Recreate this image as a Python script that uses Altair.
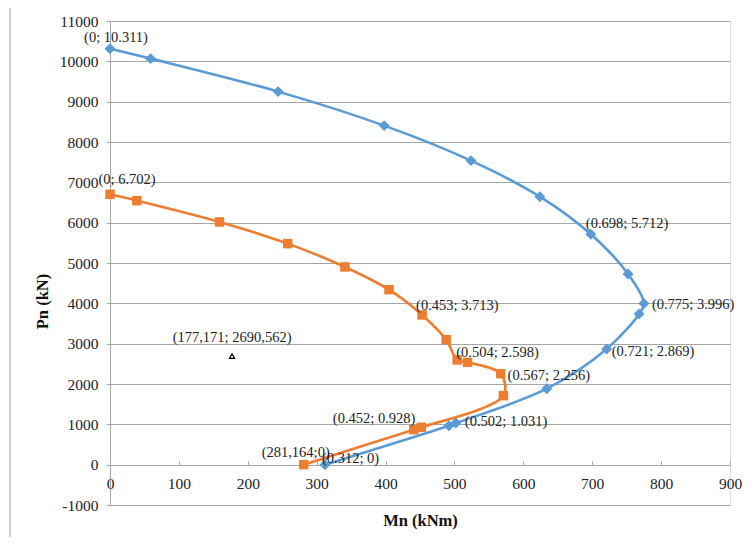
import altair as alt
import pandas as pd

# ---- data (Mn in kNm, Pn in kN) ----
blue_mn = [0, 59, 244, 398, 524, 624, 698, 752, 775, 768, 721, 634, 502, 492, 312]
blue_pn = [10311, 10067, 9249, 8406, 7538, 6645, 5712, 4728, 3996, 3736, 2869, 1884, 1031, 967, 0]

orange_mn = [0, 39, 159, 258, 341, 405, 453, 488, 504, 519, 567, 571, 452, 441, 281.164]
orange_pn = [6702, 6546, 6018, 5480, 4902, 4339, 3713, 3099, 2598, 2537, 2256, 1711, 928, 868, 0]

blue_label_idx = [0, 6, 8, 10, 12, 14]
blue_label_text = ["(0; 10.311)", "(0.698; 5.712)", "(0.775; 3.996)",
                   "(0.721; 2.869)", "(0.502; 1.031)", "(0.312; 0)"]
orange_label_idx = [0, 6, 8, 10, 12, 14]
orange_label_text = ["(0; 6.702)", "(0.453; 3.713)", "(0.504; 2.598)",
                     "(0.567; 2.256)", "(0.452; 0.928)", "(281,164;0)"]

single_mn = [177.171]
single_pn = [2690.562]
single_label = ["(177,171;  2690,562)"]

x_ticks = [0, 100, 200, 300, 400, 500, 600, 700, 800, 900]
y_ticks = [-1000, 0, 1000, 2000, 3000, 4000, 5000, 6000, 7000, 8000, 9000, 10000, 11000]

# ---- styling ----
FONT = "Liberation Serif"
BLUE = "#5B9BD5"
ORANGE = "#ED7D31"
GRID = "#a6a6a6"

# label styling (dx, dy, align) per labelled point
blue_label_style = [(6, -11, "center"), (-5, -10, "left"), (8, 2, "left"),
                    (5, 3, "left"), (9, -1, "left"), (-3, -6, "left")]
orange_label_style = [(17, -14, "center"), (-6, -9, "left"), (-1, -7, "left"),
                      (7, 2, "left"), (-6, -8, "right"), (-8, -12, "center")]

x_axis = alt.Axis(values=x_ticks, grid=False, domain=False, tickSize=4, tickColor=GRID,
                  labelFont=FONT, labelFontSize=15.5, labelColor="#222", labelPadding=11,
                  labelExpr="'' + datum.value",
                  offset=-44, title="Mn (kNm)", titleFont=FONT, titleFontSize=16.5,
                  titleFontWeight="bold", titleColor="#111", titleX=310, titleY=59,
                  titleBaseline="middle", titleAlign="center", labelFlush=False)
y_axis = alt.Axis(values=y_ticks, grid=True, gridColor=GRID, gridWidth=1, domain=True,
                  domainColor=GRID, tickColor=GRID, tickSize=4, labelFont=FONT,
                  labelFontSize=15.5, labelColor="#222", labelPadding=8,
                  labelExpr="'' + datum.value",
                  title="Pn (kN)", titleFont=FONT, titleFontSize=16.5, titleFontWeight="bold",
                  titleColor="#111", titleX=-68, titleY=280, titleAngle=-90,
                  titleBaseline="middle", titleAlign="center")

xs = alt.Scale(domain=[0, 900], nice=False, zero=False)
ys = alt.Scale(domain=[-1000, 11000], nice=False, zero=False)


def enc_x():
    return alt.X("mn:Q", scale=xs, axis=x_axis)


def enc_y():
    return alt.Y("pn:Q", scale=ys, axis=y_axis)


def series_layers(mn, pn, color, shape, size):
    df = pd.DataFrame({"mn": mn, "pn": pn, "i": list(range(len(mn)))})
    line = alt.Chart(df).mark_line(interpolate="catmull-rom", color=color,
                                   strokeWidth=2.6).encode(x=enc_x(), y=enc_y(),
                                                           order="i:Q")
    pts = alt.Chart(df).mark_point(shape=shape, filled=True, size=size, color=color,
                                   opacity=1).encode(x=enc_x(), y=enc_y())
    return [line, pts], df


def label_layers(df, idxs, texts, styles):
    out = []
    for k, t, (dx, dy, al) in zip(idxs, texts, styles):
        d = pd.DataFrame({"mn": [df["mn"][k]], "pn": [df["pn"][k]], "t": [t]})
        out.append(alt.Chart(d).mark_text(font=FONT, fontSize=14.5, color="#222",
                                          dx=dx, dy=dy, align=al, baseline="middle")
                   .encode(x=enc_x(), y=enc_y(), text="t:N"))
    return out


blue_l, blue_df = series_layers(blue_mn, blue_pn, BLUE, "diamond", 120)
orange_l, orange_df = series_layers(orange_mn, orange_pn, ORANGE, "square", 90)

single_df = pd.DataFrame({"mn": single_mn, "pn": single_pn, "t": single_label})
single_pt = alt.Chart(single_df).mark_point(shape="triangle-up", size=28, filled=True,
                                            fill="white", stroke="black", strokeWidth=1.2,
                                            opacity=1).encode(x=enc_x(), y=enc_y())
single_txt = alt.Chart(single_df).mark_text(font=FONT, fontSize=14.5, color="#222",
                                            dy=-18, align="center").encode(
    x=enc_x(), y=enc_y(), text="t:N")

frame_line = alt.Chart(pd.DataFrame({"a": [0]})).mark_rule(color="#999", strokeWidth=1).encode(
    x=alt.value(-100), y=alt.value(-13), y2=alt.value(516))

layers = ([frame_line] + blue_l + orange_l
          + label_layers(blue_df, blue_label_idx, blue_label_text, blue_label_style)
          + label_layers(orange_df, orange_label_idx, orange_label_text, orange_label_style)
          + [single_pt, single_txt])

chart = alt.layer(*layers).properties(
    width=620, height=484,
    autosize=alt.AutoSizeParams(type="none"),
    padding={"left": 102, "top": 13, "right": 12, "bottom": 32},
).configure_view(stroke=None).configure(background="white")

chart.save("out.html", embed_options={"renderer": "svg", "actions": False})
